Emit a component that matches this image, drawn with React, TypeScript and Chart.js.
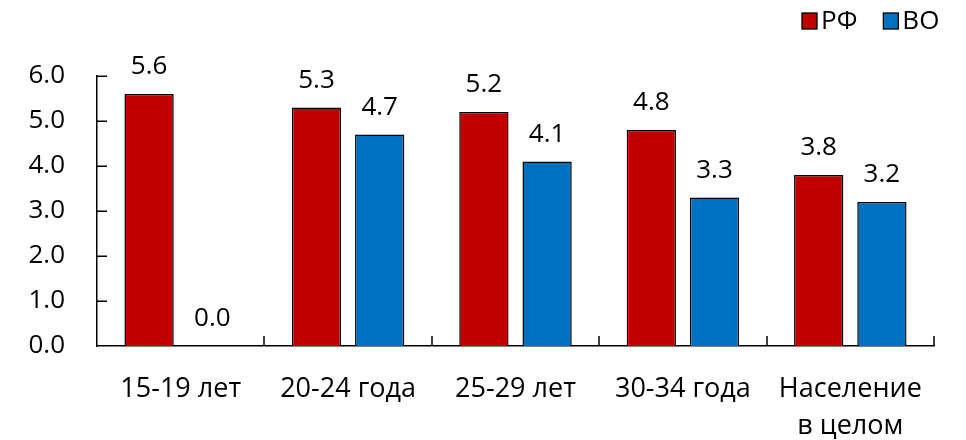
import React, { useEffect, useRef } from 'react';
import { Chart, registerables } from 'chart.js';

Chart.register(...registerables);

const categories: (string | string[])[] = ['15-19 лет', '20-24 года', '25-29 лет', '30-34 года', ['Население', 'в целом']];
const seriesNames = ['РФ', 'ВО'];
const rfValues = [5.6, 5.3, 5.2, 4.8, 3.8];
const voValues = [0.0, 4.7, 4.1, 3.3, 3.2];
const yMin = 0;
const yMax = 6;
const yStep = 1;
const seriesColors = ['#C00000', '#0070C0'];

const FONT = '"Open Sans", "DejaVu Sans", sans-serif';

const dataLabelPlugin = {
  id: 'dataLabels',
  afterDatasetsDraw(chart: any) {
    const ctx = chart.ctx;
    ctx.save();
    ctx.font = `26px ${FONT}`;
    ctx.fillStyle = '#000';
    ctx.textAlign = 'center';
    ctx.textBaseline = 'alphabetic';
    chart.data.datasets.forEach((ds: any, di: number) => {
      const meta = chart.getDatasetMeta(di);
      meta.data.forEach((el: any, i: number) => {
        const v = ds.data[i] as number;
        ctx.fillText(v.toFixed(1), el.x, el.y - 20);
      });
    });
    ctx.restore();
  },
};

const innerTicksPlugin = {
  id: 'innerTicks',
  afterDraw(chart: any) {
    const ctx = chart.ctx;
    const area = chart.chartArea;
    const ys = chart.scales.y;
    ctx.save();
    ctx.strokeStyle = '#000';
    ctx.lineWidth = 1.5;
    ctx.beginPath();
    for (let v = yMin + yStep; v <= yMax + 1e-9; v += yStep) {
      const y = Math.round(ys.getPixelForValue(v)) + 0.25;
      ctx.moveTo(area.left, y);
      ctx.lineTo(area.left + 10, y);
    }
    const n = categories.length;
    const w = (area.right - area.left) / n;
    for (let i = 1; i <= n; i++) {
      const x = Math.round(area.left + i * w);
      ctx.moveTo(x, area.bottom);
      ctx.lineTo(x, area.bottom - 10);
    }
    ctx.stroke();
    ctx.restore();
  },
};

const legendPlugin = {
  id: 'customLegend',
  afterDraw(chart: any) {
    const ctx = chart.ctx;
    ctx.save();
    ctx.font = `26px ${FONT}`;
    ctx.textBaseline = 'middle';
    ctx.textAlign = 'left';
    let x = 802;
    const yc = 21;
    seriesNames.forEach((name, i) => {
      ctx.fillStyle = seriesColors[i];
      ctx.fillRect(x, yc - 8, 15, 16);
      ctx.strokeStyle = '#000';
      ctx.lineWidth = 1.3;
      ctx.strokeRect(x, yc - 8, 15, 16);
      ctx.fillStyle = '#000';
      ctx.fillText(name, x + 19, yc + 1);
      const tw = ctx.measureText(name).width;
      x += 19 + tw + 26;
    });
    ctx.restore();
  },
};

export default function App() {
  const canvasRef = useRef<HTMLCanvasElement | null>(null);

  useEffect(() => {
    if (!canvasRef.current) return;
    const chart = new Chart(canvasRef.current, {
      type: 'bar',
      data: {
        labels: categories,
        datasets: [
          {
            label: seriesNames[0],
            data: rfValues,
            backgroundColor: seriesColors[0],
            borderColor: '#000',
            borderWidth: 1.5,
            categoryPercentage: 0.755,
            barPercentage: 0.78,
          },
          {
            label: seriesNames[1],
            data: voValues,
            backgroundColor: seriesColors[1],
            borderColor: '#000',
            borderWidth: 1.5,
            categoryPercentage: 0.755,
            barPercentage: 0.78,
          },
        ],
      },
      options: {
        animation: false,
        responsive: true,
        maintainAspectRatio: false,
        layout: { padding: { top: 76, right: 32, bottom: 0, left: 0 } },
        plugins: {
          legend: { display: false },
          tooltip: { enabled: false },
        },
        scales: {
          x: {
            offset: true,
            grid: { display: false, drawTicks: false },
            border: { display: true, color: '#000', width: 1.5 },
            ticks: {
              color: '#000',
              font: { family: FONT, size: 27, lineHeight: 1.4 },
              padding: 24,
              maxRotation: 0,
              autoSkip: false,
            },
            afterFit(scale: any) {
              scale.height = 94;
            },
          },
          y: {
            min: yMin,
            max: yMax,
            grid: { display: false, drawTicks: false },
            border: { display: true, color: '#000', width: 1.5 },
            ticks: {
              stepSize: yStep,
              color: '#000',
              font: { family: FONT, size: 26 },
              padding: 32,
              callback: (v: any) => Number(v).toFixed(1),
            },
            afterFit(scale: any) {
              scale.width = 97;
            },
          },
        },
      },
      plugins: [dataLabelPlugin, innerTicksPlugin, legendPlugin],
    });
    return () => chart.destroy();
  }, []);

  return (
    <div style={{ position: 'fixed', left: 0, top: 0, width: 966, height: 440, background: '#fff' }}>
      <canvas ref={canvasRef} />
    </div>
  );
}
